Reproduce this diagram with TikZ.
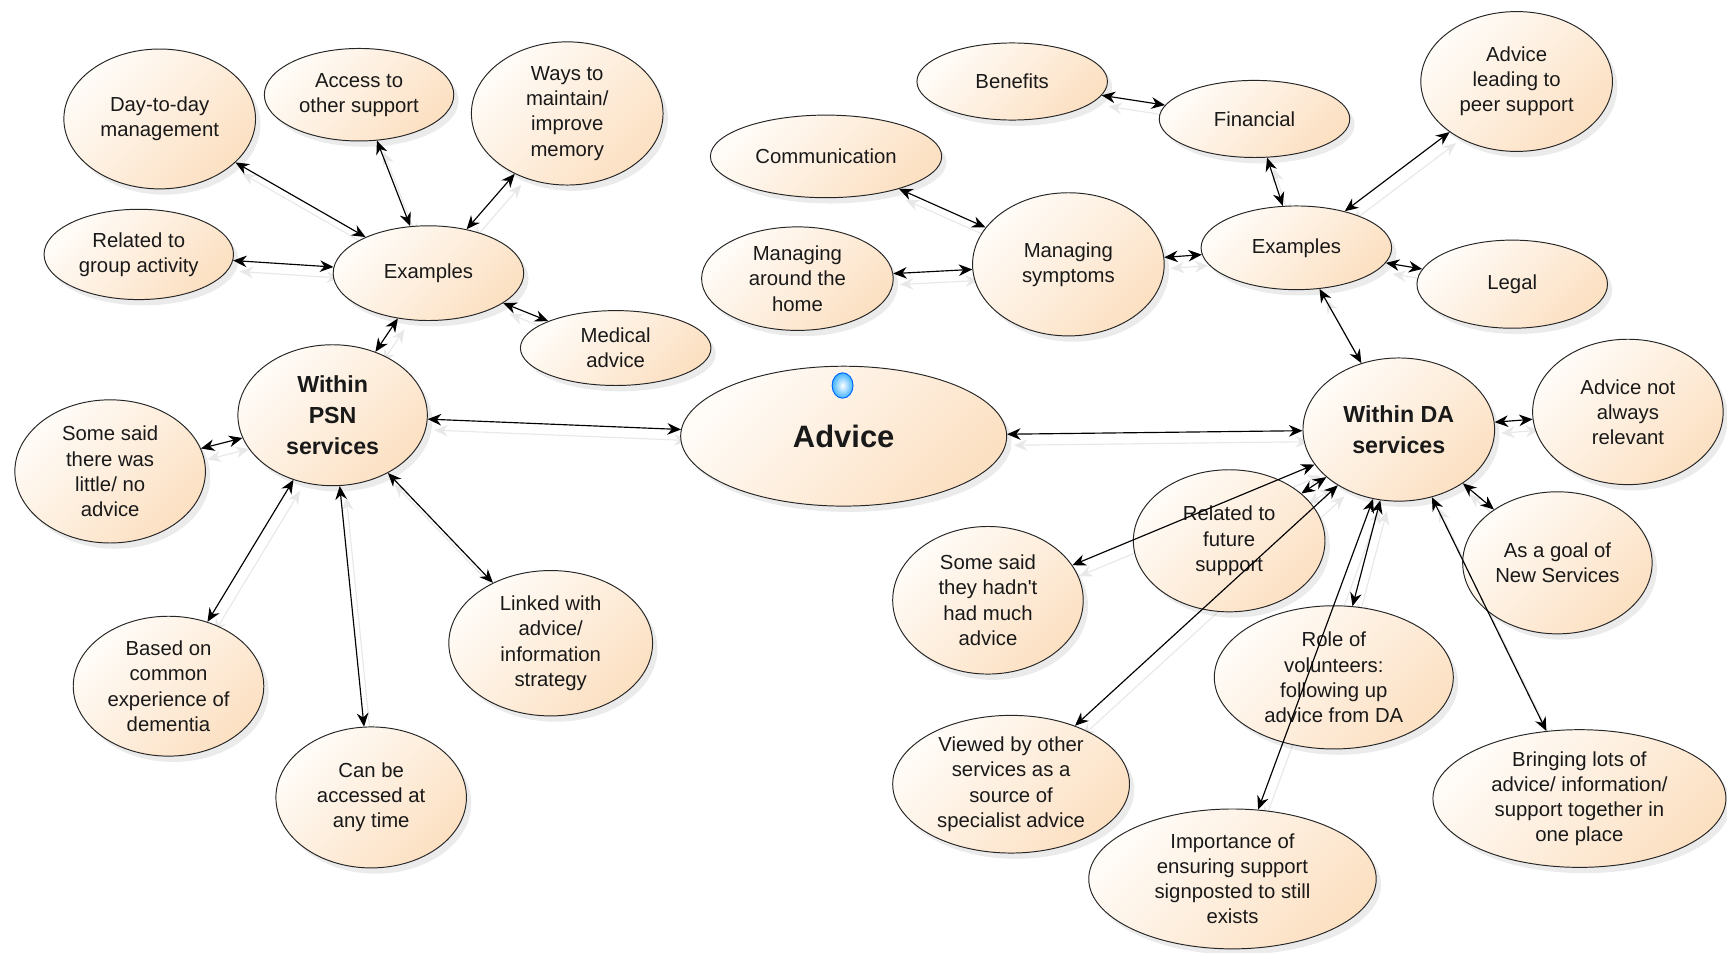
\documentclass[tikz,border=0pt]{standalone}
\usepackage{fontspec}
\setmainfont{Liberation Sans}
\usetikzlibrary{shapes.geometric,shadows,arrows.meta,backgrounds}
\definecolor{peachlight}{HTML}{FFFCF8}
\definecolor{peachdark}{HTML}{FCE0C2}
\newcommand{\linklist}{examplesL/daytoday, examplesL/access, examplesL/memory, examplesL/group, examplesL/medical, examplesL/psn, psn/advice, psn/little, psn/common, psn/anytime, psn/linked, advice/da, benefits/financial, financial/examplesR, peer/examplesR, communication/symptoms, home/symptoms, symptoms/examplesR, examplesR/legal, examplesR/da, da/relevant, da/goal, da/hadnt, da/viewed, da/volunteers, da/importance, da/future, da/bringing}
\tikzset{
  bubble/.style={ellipse, draw=black!85, line width=0.5pt, top color=peachlight, bottom color=peachdark, shading angle=45,
    drop shadow={shadow xshift=2.5pt, shadow yshift=-3pt, opacity=0.16}, inner sep=0pt, align=center, text=black!90,
    font=\fontsize{10.5}{13}\selectfont},
  wh/.style 2 args={minimum width=#1*0.02cm, minimum height=#2*0.02cm},
  hub/.style={bubble, font=\fontsize{12}{16}\selectfont\bfseries},
  knob/.style={ellipse, draw=blue!60!cyan, line width=0.5pt, inner color=white, outer color=cyan!60!blue!75, minimum width=0.38cm, minimum height=0.46cm, inner sep=0pt},
  link/.style={<->, >={Stealth[length=7pt,width=6pt]}, line width=0.6pt},
  ghost/.style={link, draw=black!9}
}

\begin{document}
\begin{tikzpicture}[x=0.02cm, y=-0.02cm]
\useasboundingbox (0,0) rectangle (1568,865);

\node[bubble, wh={174}{127}] (daytoday) at (145,108) {Day-to-day\\management};
\node[bubble, wh={172}{84}] (access) at (326,86) {Access to\\other support};
\node[bubble, wh={174}{130}] (memory) at (515,103) {Ways to\\maintain/\\improve\\memory};
\node[bubble, wh={172}{82}] (group) at (126,231) {Related to\\group activity};
\node[bubble, wh={173}{86}] (examplesL) at (389,248) {Examples};
\node[bubble, wh={173}{68}] (medical) at (559,316) {Medical\\advice};
\node[hub, wh={172}{128}] (psn) at (302,377) {Within\\PSN\\services};
\node[bubble, wh={173}{130}] (little) at (100,428) {Some said\\there was\\little/ no\\advice};
\node[bubble, wh={173}{127}] (common) at (153,623) {Based on\\common\\experience of\\dementia};
\node[bubble, wh={173}{128}] (anytime) at (337,724) {Can be\\accessed at\\any time};
\node[bubble, wh={185}{132}] (linked) at (500,584) {Linked with\\advice/\\information\\strategy};

\node[bubble, wh={296}{127}, font=\fontsize{16}{18}\selectfont\bfseries] (advice) at (766,396) {Advice};
\node[knob] (dot) at (765,350) {};

\node[bubble, wh={173}{70}] (benefits) at (919,74) {Benefits};
\node[bubble, wh={173}{70}] (financial) at (1139,108) {Financial};
\node[bubble, wh={174}{127}] (peer) at (1377,74) {Advice\\leading to\\peer support};
\node[bubble, wh={210}{75}] (communication) at (750,142) {Communication};
\node[bubble, wh={174}{94}] (home) at (724,253) {Managing\\around the\\home};
\node[bubble, wh={174}{130}] (symptoms) at (970,240) {Managing\\symptoms};
\node[bubble, wh={173}{76}] (examplesR) at (1177,225) {Examples};
\node[bubble, wh={173}{80}] (legal) at (1373,258) {Legal};
\node[hub, wh={174}{130}] (da) at (1270,390) {Within DA\\services};
\node[bubble, wh={173}{132}] (relevant) at (1478,374) {Advice not\\always\\relevant};
\node[bubble, wh={172}{129}] (goal) at (1414,511) {As a goal of\\New Services};
\node[bubble, wh={174}{129}] (future) at (1116,491) {Related to\\future\\support};
\node[bubble, wh={173}{134}] (hadnt) at (897,545) {Some said\\they hadn\textquotesingle t\\had much\\advice};
\node[bubble, wh={217}{130}] (volunteers) at (1211,615) {Role of\\volunteers:\\following up\\advice from DA};
\node[bubble, wh={215}{125}] (viewed) at (918,712) {Viewed by other\\services as a\\source of\\specialist advice};
\node[bubble, wh={261}{127}] (importance) at (1119,798) {Importance of\\ensuring support\\signposted to still\\exists};
\node[bubble, wh={266}{125}] (bringing) at (1434,725) {Bringing lots of\\advice/ information/\\support together in\\one place};

\begin{scope}[on background layer]
\begin{scope}[transform canvas={shift={(6,10)}}]
\foreach \a/\b in \linklist
  \draw[ghost] (\a) -- (\b);
\end{scope}
\end{scope}

\foreach \a/\b in \linklist
  \draw[link] (\a) -- (\b);
\end{tikzpicture}
\end{document}
